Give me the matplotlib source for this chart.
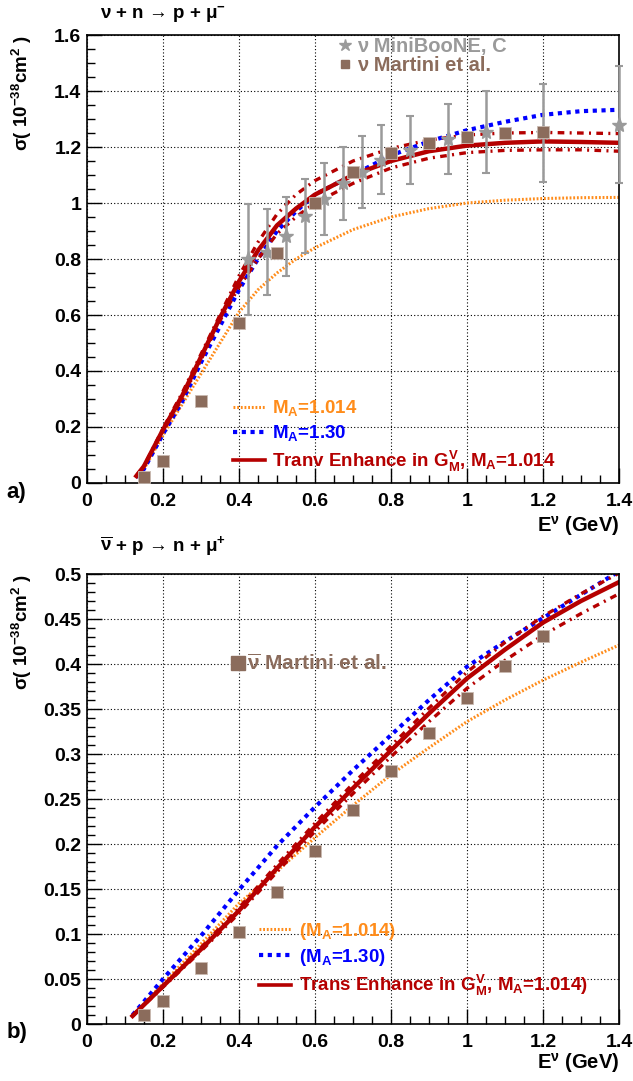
import numpy as np
import matplotlib.pyplot as plt
from matplotlib.lines import Line2D
from matplotlib.ticker import MultipleLocator, FormatStrFormatter

plt.rcParams['font.family'] = ['Liberation Sans', 'DejaVu Sans']
plt.rcParams['font.weight'] = 'bold'
plt.rcParams['mathtext.fontset'] = 'custom'
plt.rcParams['mathtext.rm'] = 'Liberation Sans:bold'
plt.rcParams['mathtext.it'] = 'Liberation Sans:bold'
plt.rcParams['mathtext.bf'] = 'Liberation Sans:bold'

# ---- panel a) nu + n -> p + mu-
E_top = [0.13, 0.15, 0.2, 0.25, 0.3, 0.35, 0.4, 0.45, 0.5, 0.55, 0.6, 0.7, 0.8, 0.9, 1.0, 1.1, 1.2, 1.3, 1.4]
top_tran = [0.025, 0.06, 0.19, 0.31, 0.45, 0.59, 0.72, 0.83, 0.92, 0.98, 1.03, 1.10, 1.15, 1.185, 1.205, 1.215, 1.22, 1.218, 1.215]
top_tran_up = [0.025, 0.06, 0.195, 0.32, 0.46, 0.60, 0.74, 0.86, 0.96, 1.03, 1.08, 1.15, 1.195, 1.225, 1.243, 1.25, 1.252, 1.25, 1.248]
top_tran_lo = [0.025, 0.06, 0.185, 0.30, 0.44, 0.58, 0.70, 0.80, 0.89, 0.95, 1.0, 1.07, 1.125, 1.16, 1.18, 1.188, 1.19, 1.19, 1.185]
top_ma130 = [0.02, 0.05, 0.175, 0.29, 0.43, 0.56, 0.69, 0.80, 0.90, 0.97, 1.03, 1.10, 1.17, 1.22, 1.26, 1.29, 1.315, 1.328, 1.333]
top_ma1014 = [0.02, 0.05, 0.17, 0.28, 0.39, 0.50, 0.61, 0.69, 0.75, 0.80, 0.84, 0.905, 0.95, 0.98, 1.0, 1.01, 1.016, 1.019, 1.02]

mb_E = [0.425, 0.475, 0.525, 0.575, 0.625, 0.675, 0.725, 0.775, 0.85, 0.95, 1.05, 1.2, 1.4]
mb_sig = [0.7985, 0.8261, 0.8809, 0.9530, 1.013, 1.071, 1.111, 1.155, 1.189, 1.229, 1.253, 1.250, 1.280]
mb_err = [0.1997, 0.1532, 0.1414, 0.1330, 0.1289, 0.1303, 0.1283, 0.1243, 0.1211, 0.1238, 0.1467, 0.1765, 0.2101]

mart_E = [0.15, 0.2, 0.3, 0.4, 0.5, 0.6, 0.7, 0.8, 0.9, 1.0, 1.1, 1.2]
mart_top = [0.02, 0.08, 0.293, 0.57, 0.82, 1.0, 1.11, 1.18, 1.214, 1.236, 1.25, 1.254]

# ---- panel b) nubar + p -> n + mu+
E_bot = [0.12, 0.2, 0.3, 0.4, 0.5, 0.6, 0.7, 0.8, 0.9, 1.0, 1.1, 1.2, 1.3, 1.4]
bot_tran = [0.009, 0.042, 0.083, 0.126, 0.173, 0.219, 0.262, 0.304, 0.345, 0.384, 0.416, 0.446, 0.470, 0.491]
bot_tran_up = [0.009, 0.043, 0.085, 0.129, 0.177, 0.223, 0.267, 0.309, 0.351, 0.391, 0.424, 0.453, 0.478, 0.501]
bot_tran_lo = [0.009, 0.041, 0.081, 0.123, 0.169, 0.214, 0.256, 0.297, 0.336, 0.373, 0.404, 0.432, 0.456, 0.478]
bot_ma130 = [0.01, 0.05, 0.098, 0.149, 0.198, 0.241, 0.282, 0.321, 0.360, 0.397, 0.425, 0.451, 0.477, 0.503]
bot_ma1014 = [0.009, 0.045, 0.089, 0.134, 0.170, 0.207, 0.243, 0.277, 0.307, 0.336, 0.360, 0.382, 0.402, 0.421]

mart_bot = [0.01, 0.026, 0.062, 0.102, 0.147, 0.192, 0.238, 0.281, 0.323, 0.362, 0.398, 0.431]

RED = '#b50000'
BLUE = '#0000ff'
ORANGE = '#ff8c1a'
GRAY = '#9a9a9a'
BROWN = '#8b6c5c'

fig = plt.figure(figsize=(6.33, 10.81), dpi=100)
ax1 = fig.add_axes([0.1374, 0.5532, 0.8404, 0.4144])
ax2 = fig.add_axes([0.1374, 0.0527, 0.8404, 0.4163])


def curves(ax, E, tran, up, lo, ma130, ma1014):
    ax.plot(E, ma1014, color=ORANGE, lw=2.2, dashes=(0.6, 0.6))
    ax.plot(E, ma130, color=BLUE, lw=3, dashes=(1.0, 1.1))
    ax.plot(E, up, color=RED, lw=2.4, dashes=(2.0, 1.6, 0.6, 1.6))
    ax.plot(E, lo, color=RED, lw=2.4, dashes=(2.0, 1.6, 0.6, 1.6))
    ax.plot(E, tran, color=RED, lw=3.2)


def style(ax, ymax, ymaj, ymin):
    ax.set_xlim(0, 1.4)
    ax.set_ylim(0, ymax)
    ax.xaxis.set_major_locator(MultipleLocator(0.2))
    ax.xaxis.set_minor_locator(MultipleLocator(0.05))
    ax.yaxis.set_major_locator(MultipleLocator(ymaj))
    ax.yaxis.set_minor_locator(MultipleLocator(ymin))
    ax.xaxis.set_major_formatter(FormatStrFormatter('%g'))
    ax.yaxis.set_major_formatter(FormatStrFormatter('%g'))
    ax.tick_params(which='both', direction='in', top=False, right=False, labelsize=14, width=1)
    ax.tick_params(which='major', length=11)
    ax.tick_params(which='minor', length=6)
    ax.tick_params(axis='x', pad=7)
    ax.tick_params(axis='y', pad=4)
    ax.grid(True, which='major', color='black', ls=(0, (1, 2)), lw=0.8)
    for s in ax.spines.values():
        s.set_linewidth(1.2)
    for lab in ax.get_xticklabels() + ax.get_yticklabels():
        lab.set_fontweight('bold')


curves(ax1, E_top, top_tran, top_tran_up, top_tran_lo, top_ma130, top_ma1014)
ax1.errorbar(mb_E, mb_sig, yerr=mb_err, fmt='*', color=GRAY, ms=11, elinewidth=1.8,
             capsize=3, capthick=1.5, clip_on=False, zorder=5)
ax1.plot(mart_E, mart_top, 's', color=BROWN, ms=8, mec='#c9b9b0', mew=0.6, zorder=6)
style(ax1, 1.6, 0.2, 0.05)

curves(ax2, E_bot, bot_tran, bot_tran_up, bot_tran_lo, bot_ma130, bot_ma1014)
ax2.plot(mart_E, mart_bot, 's', color=BROWN, ms=8, mec='#c9b9b0', mew=0.6, zorder=6)
style(ax2, 0.5, 0.05, 0.01)

# legends panel a
h_or = Line2D([], [], color=ORANGE, lw=2.2, dashes=(0.6, 0.6))
h_bl = Line2D([], [], color=BLUE, lw=3, dashes=(1.0, 1.1))
h_rd = Line2D([], [], color=RED, lw=2.6)
leg1 = ax1.legend([h_or, h_bl, h_rd],
                  ['M$_\\mathrm{A}$=1.014', 'M$_\\mathrm{A}$=1.30',
                   'Tranv Enhance in G$_\\mathrm{M}^\\mathrm{V}$, M$_\\mathrm{A}$=1.014'],
                  loc='lower left', bbox_to_anchor=(0.243, -0.017), frameon=False,
                  prop={'size': 13.5, 'weight': 'bold'}, handlelength=1.7,
                  handletextpad=0.4, labelspacing=0.28,
                  labelcolor=[ORANGE, BLUE, RED])
ax1.add_artist(leg1)
h_st = Line2D([], [], marker='*', ls='', color=GRAY, ms=9)
h_sq = Line2D([], [], marker='s', ls='', color=BROWN, ms=6)
ax1.legend([h_st, h_sq], ['\u03bd MiniBooNE, C', '\u03bd Martini et al.'],
           loc='upper left', bbox_to_anchor=(0.44, 1.035), frameon=False,
           prop={'size': 14.5, 'weight': 'bold'}, handlelength=0.6,
           handletextpad=0.3, labelspacing=0.0, labelcolor=[GRAY, BROWN])

# legends panel b
leg2 = ax2.legend([h_or, h_bl, h_rd],
                  ['(M$_\\mathrm{A}$=1.014)', '(M$_\\mathrm{A}$=1.30)',
                   'Trans Enhance in G$_\\mathrm{M}^\\mathrm{V}$, M$_\\mathrm{A}$=1.014)'],
                  loc='lower left', bbox_to_anchor=(0.292, 0.02), frameon=False,
                  prop={'size': 13.5, 'weight': 'bold'}, handlelength=1.7,
                  handletextpad=0.4, labelspacing=0.28,
                  labelcolor=[ORANGE, BLUE, RED])
ax2.add_artist(leg2)
h_sq2 = Line2D([], [], marker='s', ls='', color=BROWN, ms=10)
ax2.legend([h_sq2], ['$\\overline{\\nu}$ Martini et al.'],
           loc='upper left', bbox_to_anchor=(0.236, 0.865), frameon=False,
           prop={'size': 15, 'weight': 'bold'}, handlelength=0.6,
           handletextpad=0.15, labelcolor=[BROWN])

# titles and axis labels
fig.text(0.158, 0.986, '\u03bd + n \u2192 p + \u03bc$^{-}$', fontsize=13.5, fontweight='bold', va='center')
fig.text(0.158, 0.495, '$\\overline{\\nu}$ + p \u2192 n + \u03bc$^{+}$', fontsize=13.5, fontweight='bold', va='center')
for yt in (0.9676, 0.469):
    fig.text(0.035, yt, '\u03c3( 10$^{-38}$cm$^{2}$ )', rotation=90, fontsize=13.5,
             fontweight='bold', ha='center', va='top')
fig.text(0.978, 0.513, 'E$^{\\nu}$ (GeV)', fontsize=14.5, fontweight='bold', ha='right', va='center')
fig.text(0.978, 0.017, 'E$^{\\nu}$ (GeV)', fontsize=14.5, fontweight='bold', ha='right', va='center')
fig.text(0.01, 0.544, 'a)', fontsize=16, fontweight='bold', va='center')
fig.text(0.01, 0.045, 'b)', fontsize=16, fontweight='bold', va='center')

fig.savefig('out.png', dpi=100)
